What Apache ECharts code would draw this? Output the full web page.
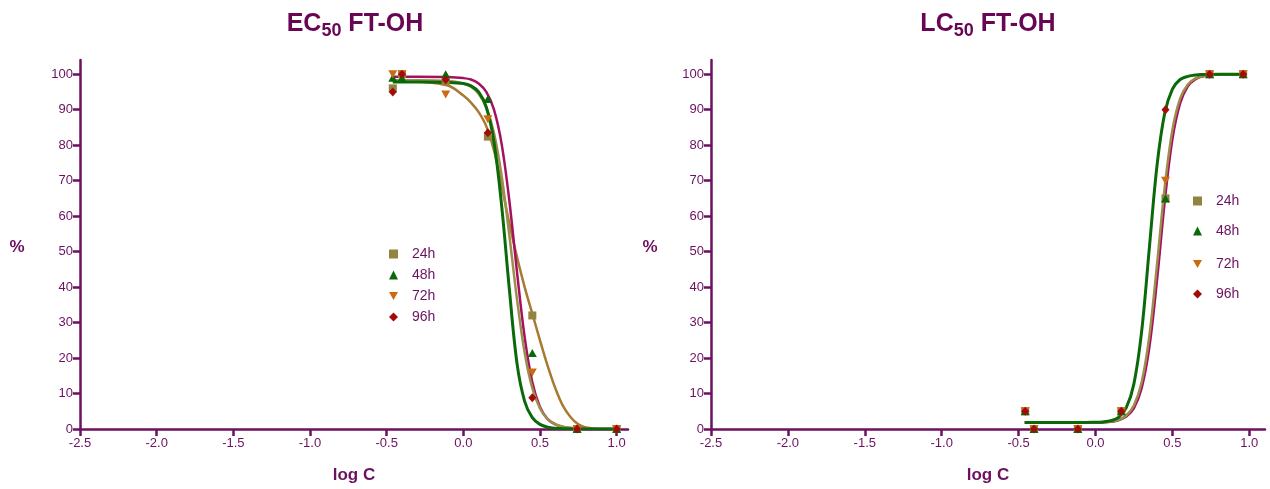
<!DOCTYPE html>
<html>
<head>
<meta charset="utf-8">
<script src="https://cdn.jsdelivr.net/npm/echarts@6/dist/echarts.min.js"></script>
<style>
html,body{margin:0;padding:0;background:#ffffff;}
#chart{width:1270px;height:489px;}
</style>
</head>
<body>
<div id="chart"></div>
<script>
// ---------- data ----------
const seriesNames = ['24h', '48h', '72h', '96h'];
const xTickValues = [-2.5, -2.0, -1.5, -1.0, -0.5, 0.0, 0.5, 1.0];
const yTickValues = [0, 10, 20, 30, 40, 50, 60, 70, 80, 90, 100];

// EC50 panel: measured points (log C, %)
const ecLogC = [-0.46, -0.40, -0.115, 0.16, 0.45, 0.742, 1.0];
const ec24h = [96, 100, 98, 82.4, 32, 0, 0];
const ec48h = [99, 99, 100, 93, 21.4, 0, 0];
const ec72h = [100, 100, 94.3, 87.3, 15.9, 0, 0];
const ec96h = [95, 100, 98.4, 83.5, 8.8, 0, 0];

// EC50 panel: fitted curves
const ecFitLogC = [-0.46, -0.3, -0.1, 0, 0.05, 0.1, 0.15, 0.2, 0.25, 0.3, 0.35, 0.4, 0.45, 0.5, 0.55, 0.6, 0.65, 0.7, 0.75, 0.8, 0.9, 1.0];
const ecFit24h = [98.3, 98.0, 96.8, 94.0, 92.0, 89.3, 85.3, 78.5, 68.5, 58.0, 48.5, 40.0, 32.5, 25.0, 17.8, 11.5, 6.5, 3.3, 1.3, 0.4, 0, 0];
const ecFit48h = [99.3, 99.3, 99.2, 98.9, 98.5, 97.4, 95.0, 90.0, 80.3, 64.4, 44.3, 25.9, 13.2, 6.2, 2.8, 1.3, 0.6, 0.25, 0.1, 0, 0, 0];
const ecFit72h = [98.3, 98.3, 98.1, 97.4, 96.5, 94.5, 90.6, 83.4, 71.3, 54.6, 36.6, 21.5, 11.5, 5.8, 2.8, 1.4, 0.65, 0.3, 0.15, 0.07, 0, 0];
const ecFit96h = [97.8, 97.8, 97.7, 97.4, 96.7, 95.0, 90.7, 80.9, 62.9, 39.5, 18.5, 7.8, 3.2, 1.3, 0.5, 0.2, 0.1, 0.05, 0, 0, 0, 0];

// LC50 panel: measured points (log C, %)
const lcLogC = [-0.457, -0.40, -0.115, 0.168, 0.455, 0.742, 0.96];
const lc24h = [5, 0, 0, 5, 65, 100, 100];
const lc48h = [5, 0, 0, 5, 65, 100, 100];
const lc72h = [5, 0, 0, 5, 70, 100, 100];
const lc96h = [5, 0, 0, 5, 90, 100, 100];

// LC50 panel: fitted curves
const lcFitLogC = [-0.46, -0.3, -0.1, 0, 0.05, 0.1, 0.15, 0.2, 0.25, 0.3, 0.35, 0.4, 0.45, 0.5, 0.55, 0.6, 0.65, 0.7, 0.8, 0.96];
const lcFit24h = [1.8, 1.8, 1.8, 1.85, 1.92, 2.08, 2.55, 3.65, 6.3, 12.3, 24.5, 44.2, 66.2, 83.0, 92.5, 96.9, 98.7, 99.5, 99.9, 100];
const lcFit48h = [1.8, 1.8, 1.8, 1.85, 1.9, 2.05, 2.5, 3.5, 5.9, 11.5, 23.0, 42.0, 64.1, 81.7, 91.8, 96.6, 98.6, 99.4, 99.9, 100];
const lcFit72h = [1.8, 1.8, 1.8, 1.85, 1.95, 2.1, 2.6, 3.8, 6.7, 13.2, 26.2, 46.4, 68.2, 84.3, 93.1, 97.1, 98.8, 99.5, 99.9, 100];
const lcFit96h = [1.8, 1.8, 1.8, 1.9, 2.0, 2.35, 3.3, 6.0, 12.8, 27.5, 51.0, 74.3, 89.0, 95.8, 98.5, 99.4, 99.8, 99.9, 100, 100];

// ---------- styling ----------
const AXIS = '#6b1160';
const TITLE = '#690553';
const FONT = 'Arial, "Liberation Sans", Helvetica, sans-serif';
const markerColors = ['#938340', '#0a6a0a', '#cc6a12', '#a30a0a'];
const markerSymbols = ['rect', 'triangle', 'path://M0,0 L10,0 L5,9 Z', 'diamond'];
const markerSizes = [8, [9, 8], [9, 8], [8, 9]];
const fitColors = ['#a87a30', '#a51060', '#9e8e4e', '#0a6a0a'];
const fitWidths = [2.5, 2.5, 2.5, 3];

const pairs = (xs, ys) => xs.map((x, i) => [x, ys[i]]);

function xAxisCfg(gridIndex, max) {
  return {
    type: 'value', gridIndex: gridIndex, min: -2.5, max: max,
    axisLine: { show: true, onZero: false, lineStyle: { color: AXIS, width: 2.5 } },
    axisTick: { show: true, customValues: xTickValues, length: 7, lineStyle: { color: AXIS, width: 2.5 } },
    axisLabel: { customValues: xTickValues, formatter: v => Number(v).toFixed(1), color: AXIS, fontSize: 13, fontFamily: FONT, margin: 8 },
    splitLine: { show: false }
  };
}
function yAxisCfg(gridIndex) {
  return {
    type: 'value', gridIndex: gridIndex, min: 0, max: 104,
    axisLine: { show: true, onZero: false, lineStyle: { color: AXIS, width: 2.5 } },
    axisTick: { show: true, customValues: yTickValues, length: 7, lineStyle: { color: AXIS, width: 2.5 } },
    axisLabel: { customValues: yTickValues, color: AXIS, fontSize: 13, fontFamily: FONT, margin: 7 },
    splitLine: { show: false }
  };
}

const panels = [
  { xs: ecLogC, ys: [ec24h, ec48h, ec72h, ec96h], fx: ecFitLogC, fy: [ecFit24h, ecFit48h, ecFit72h, ecFit96h] },
  { xs: lcLogC, ys: [lc24h, lc48h, lc72h, lc96h], fx: lcFitLogC, fy: [lcFit24h, lcFit48h, lcFit72h, lcFit96h] }
];

const series = [];
panels.forEach((p, gi) => {
  p.fy.forEach((ys, k) => {
    series.push({
      type: 'line', name: seriesNames[k] + ' fit ' + gi, xAxisIndex: gi, yAxisIndex: gi,
      data: pairs(p.fx, ys), smooth: 0.35, symbol: 'none', showSymbol: false, silent: true,
      lineStyle: { color: fitColors[k], width: fitWidths[k] }, itemStyle: { color: fitColors[k] }, z: 2
    });
  });
  p.ys.forEach((ys, k) => {
    series.push({
      type: 'scatter', name: seriesNames[k], xAxisIndex: gi, yAxisIndex: gi,
      data: pairs(p.xs, ys), symbol: markerSymbols[k], symbolSize: markerSizes[k],
      itemStyle: { color: markerColors[k], opacity: 1 }, z: 3
    });
  });
});

// legend positions (icon left, row top)
const legendLeft = [[389, [247, 268, 289, 310]], [1193, [194, 224, 257, 287]]];
const legends = [];
legendLeft.forEach(([lx, tops]) => {
  seriesNames.forEach((n, k) => {
    legends.push({
      data: [n], left: lx, top: tops[k], orient: 'vertical', padding: 0,
      itemWidth: 9, itemHeight: 9, selectedMode: false,
      textStyle: { color: AXIS, fontSize: 14, fontFamily: FONT, padding: [0, 0, 0, 9] }
    });
  });
});

const titleRich = {
  a: { fontSize: 25, fontWeight: 'bold', fill: TITLE, lineHeight: 33, fontFamily: FONT },
  s: { fontSize: 18, fontWeight: 'bold', fill: TITLE, lineHeight: 18, verticalAlign: 'bottom', fontFamily: FONT }
};

const option = {
  animation: false,
  backgroundColor: '#ffffff',
  grid: [
    { left: 80, top: 60, width: 548, height: 369, outerBoundsMode: 'none' },
    { left: 711, top: 60, width: 554, height: 369, outerBoundsMode: 'none' }
  ],
  xAxis: [xAxisCfg(0, 1.074), xAxisCfg(1, 1.102)],
  yAxis: [yAxisCfg(0), yAxisCfg(1)],
  legend: legends,
  graphic: [
    { type: 'text', x: 355, y: 7.5, style: { text: '{a|EC}{s|50}{a| FT-OH}', rich: titleRich, align: 'center', verticalAlign: 'top' } },
    { type: 'text', x: 988, y: 7.5, style: { text: '{a|LC}{s|50}{a| FT-OH}', rich: titleRich, align: 'center', verticalAlign: 'top' } },
    { type: 'text', x: 354, y: 475, style: { text: 'log C', fill: AXIS, font: 'bold 17px ' + FONT, align: 'center', verticalAlign: 'middle' } },
    { type: 'text', x: 988, y: 475, style: { text: 'log C', fill: AXIS, font: 'bold 17px ' + FONT, align: 'center', verticalAlign: 'middle' } },
    { type: 'text', x: 17, y: 247, style: { text: '%', fill: AXIS, font: 'bold 17px ' + FONT, align: 'center', verticalAlign: 'middle' } },
    { type: 'text', x: 650, y: 247, style: { text: '%', fill: AXIS, font: 'bold 17px ' + FONT, align: 'center', verticalAlign: 'middle' } }
  ],
  series: series
};

const chart = echarts.init(document.getElementById('chart'), null, { renderer: 'canvas' });
chart.setOption(option);
</script>
</body>
</html>
